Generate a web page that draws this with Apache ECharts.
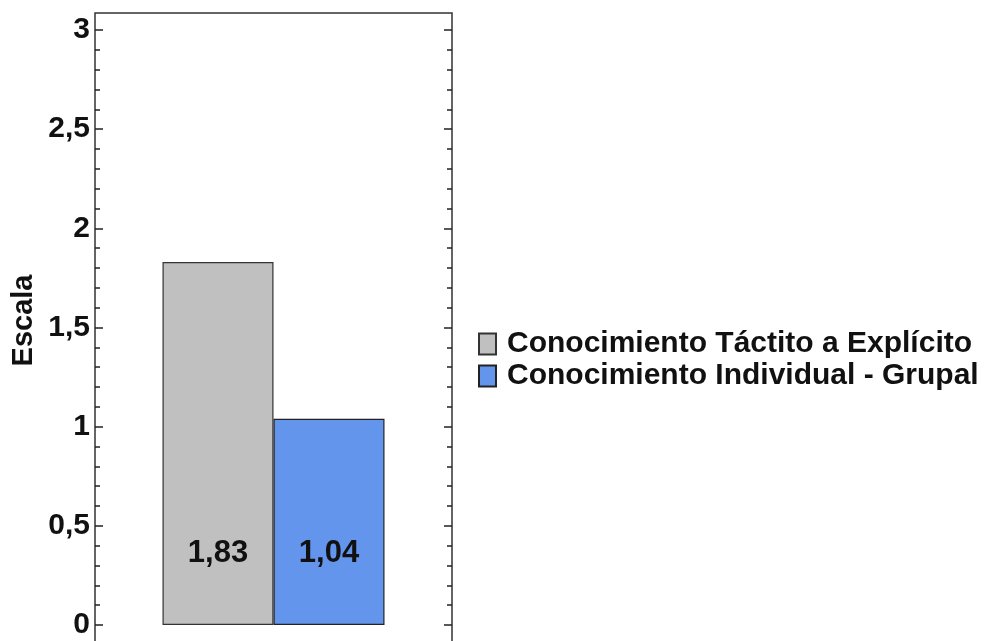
<!DOCTYPE html>
<html>
<head>
<meta charset="utf-8">
<script src="https://cdn.jsdelivr.net/npm/echarts@6/dist/echarts.min.js"></script>
<style>
  html, body { margin: 0; padding: 0; background: #ffffff; }
  #chart { width: 998px; height: 641px; }
</style>
</head>
<body>
<div id="chart"></div>
<script>
// Chart data
const categories = ['Conocimiento'];
const seriesNames = ['Conocimiento Táctito a Explícito', 'Conocimiento Individual - Grupal'];
const tacitoExplicito = [1.83];
const individualGrupal = [1.04];
const seriesColors = ['#c0c0c0', '#6495ed'];
const axisName = 'Escala';

const FONT = 'Arial, "Liberation Sans", sans-serif';
const comma = v => String(v).replace('.', ',');

const tickAxis = (position, showLabels) => ({
  type: 'value',
  gridIndex: 0,
  position: position,
  min: 0,
  max: 3,
  interval: 0.5,
  axisLine: { show: false },
  splitLine: { show: false },
  axisTick: { show: true, inside: true, length: 8, lineStyle: { color: '#222', width: 1.5 } },
  minorTick: { show: true, splitNumber: 5, length: 5, lineStyle: { color: '#222', width: 1.5 } },
  axisLabel: {
    show: showLabels,
    formatter: v => comma(v),
    fontFamily: FONT, fontWeight: 'bold', fontSize: 30, color: '#111', margin: 5
  },
  name: showLabels ? axisName : '',
  nameLocation: 'middle',
  nameRotate: 90,
  nameGap: 57,
  nameTextStyle: { fontFamily: FONT, fontWeight: 'bold', fontSize: 29, color: '#111', padding: [0, 0, 0, 14] }
});

const barLabel = {
  show: true,
  position: 'insideBottom',
  distance: 56,
  formatter: p => comma(p.value),
  fontFamily: FONT, fontWeight: 'bold', fontSize: 31, color: '#111'
};

const chart = echarts.init(document.getElementById('chart'), null, { renderer: 'canvas' });
chart.setOption({
  backgroundColor: '#ffffff',
  animation: false,
  grid: [
    // plotting area (0 .. 3)
    { left: 95, right: 546, top: 30, bottom: 16, outerBoundsMode: 'none' },
    // outer frame box, its lower edge runs past the canvas
    { left: 95, right: 546, top: 13, bottom: -40, outerBoundsMode: 'none', show: true,
      borderColor: '#333', borderWidth: 1.5, backgroundColor: 'transparent' }
  ],
  xAxis: [
    { type: 'category', gridIndex: 0, data: categories,
      axisLine: { show: false }, axisTick: { show: false }, axisLabel: { show: false } },
    { type: 'value', gridIndex: 1, show: false }
  ],
  yAxis: [
    tickAxis('left', true),
    tickAxis('right', false),
    { type: 'value', gridIndex: 1, show: false }
  ],
  legend: {
    orient: 'vertical',
    left: 478,
    top: 329,
    padding: 0,
    itemWidth: 17,
    itemHeight: 21,
    itemGap: 2,
    icon: 'rect',
    selectedMode: false,
    textStyle: { fontFamily: FONT, fontWeight: 'bold', fontSize: 30, color: '#111', padding: [0, 0, 0, 6] },
    data: seriesNames
  },
  series: [
    {
      name: seriesNames[0], type: 'bar', xAxisIndex: 0, yAxisIndex: 0,
      data: tacitoExplicito, barWidth: 111, barGap: '0%',
      itemStyle: { color: seriesColors[0], borderColor: '#333', borderWidth: 1.2 },
      label: barLabel
    },
    {
      name: seriesNames[1], type: 'bar', xAxisIndex: 0, yAxisIndex: 0,
      data: individualGrupal, barWidth: 111, barGap: '0%',
      itemStyle: { color: seriesColors[1], borderColor: '#222', borderWidth: 1.2 },
      label: barLabel
    }
  ]
});
</script>
</body>
</html>
